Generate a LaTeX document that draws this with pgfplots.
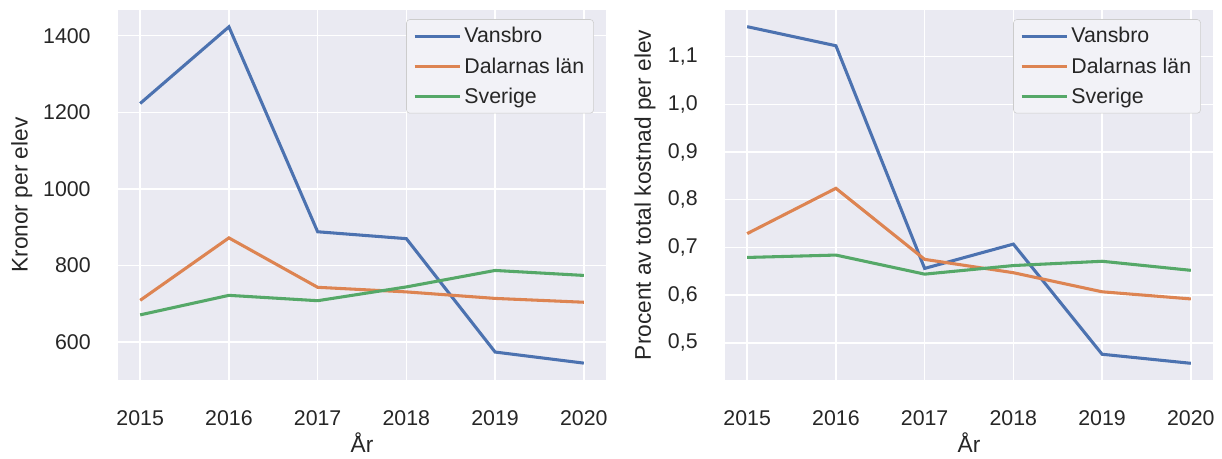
\documentclass[border=0pt]{standalone}
\usepackage{pgfplots}
\pgfplotsset{compat=1.18}
\usepackage{fontspec}
\setmainfont{Liberation Sans}
\definecolor{sbblue}{HTML}{4C72B0}
\definecolor{sborange}{HTML}{DD8452}
\definecolor{sbgreen}{HTML}{55A868}
\definecolor{sbbg}{HTML}{EAEAF2}
\definecolor{sbtext}{HTML}{262626}
\pgfplotsset{
  sbstyle/.style={
    scale only axis,
    width=366pt, height=277.5pt,
    axis background/.style={fill=sbbg},
    axis line style={draw=none},
    grid=major,
    major grid style={white, line width=1.1pt},
    tick style={draw=none},
    xmin=2014.75, xmax=2020.25,
    xtick={2015,2016,2017,2018,2019,2020},
    xticklabels={2015,2016,2017,2018,2019,2020},
    /pgf/number format/assume math mode=true,
    tick label style={font=\fontsize{16}{19}\selectfont, text=sbtext},
    label style={font=\fontsize{17}{20}\selectfont, text=sbtext},
    yticklabel style={anchor=east, xshift=-17pt},
    xticklabel style={anchor=center, yshift=-28.5pt},
    xlabel={År},
    xlabel style={at={(axis description cs:0.5,0)}, anchor=center, yshift=-47pt},
    legend style={at={(0.975,0.975)}, anchor=north east, fill=sbbg!60!white, draw=black!20,
      rounded corners=2.5pt, font=\fontsize{16}{19}\selectfont, text=sbtext,
      row sep=5.5pt, inner xsep=5pt, inner ysep=4pt},
    legend cell align=left,
    legend image code/.code={\draw[#1, line width=2.3pt] (0cm,0cm) -- (1.2cm,0cm);},
    every axis plot/.append style={line width=2.3pt},
  }
}
\begin{document}
\begin{tikzpicture}
\path[use as bounding box] (-88.5pt,-59.25pt) rectangle (828pt,285pt);
\begin{axis}[sbstyle, at={(0pt,0pt)}, anchor=south west,
  ymin=501, ymax=1467,
  ytick={600,800,1000,1200,1400},
  yticklabels={600,800,1000,1200,1400},
  ylabel={Kronor per elev},
  ylabel style={at={(axis description cs:-0.197,0.5)}, anchor=center},
]
\addplot[sbblue] coordinates {(2015,1223) (2016,1423) (2017,888) (2018,870) (2019,574) (2020,545)};
\addlegendentry{Vansbro}
\addplot[sborange] coordinates {(2015,709) (2016,872) (2017,743) (2018,731) (2019,714) (2020,704)};
\addlegendentry{Dalarnas län}
\addplot[sbgreen] coordinates {(2015,671) (2016,722) (2017,708) (2018,744) (2019,787) (2020,774)};
\addlegendentry{Sverige}
\end{axis}
\begin{axis}[sbstyle, at={(455.25pt,0pt)}, anchor=south west,
  ymin=0.422, ymax=1.198,
  ytick={0.5,0.6,0.7,0.8,0.9,1.0,1.1},
  yticklabels={{0,5},{0,6},{0,7},{0,8},{0,9},{1,0},{1,1}},
  ylabel={Procent av total kostnad per elev},
  ylabel style={at={(axis description cs:-0.164,0.5)}, anchor=center},
]
\addplot[sbblue] coordinates {(2015,1.163) (2016,1.123) (2017,0.656) (2018,0.707) (2019,0.476) (2020,0.457)};
\addlegendentry{Vansbro}
\addplot[sborange] coordinates {(2015,0.729) (2016,0.824) (2017,0.675) (2018,0.647) (2019,0.607) (2020,0.592)};
\addlegendentry{Dalarnas län}
\addplot[sbgreen] coordinates {(2015,0.679) (2016,0.684) (2017,0.644) (2018,0.662) (2019,0.671) (2020,0.652)};
\addlegendentry{Sverige}
\end{axis}
\end{tikzpicture}
\end{document}
